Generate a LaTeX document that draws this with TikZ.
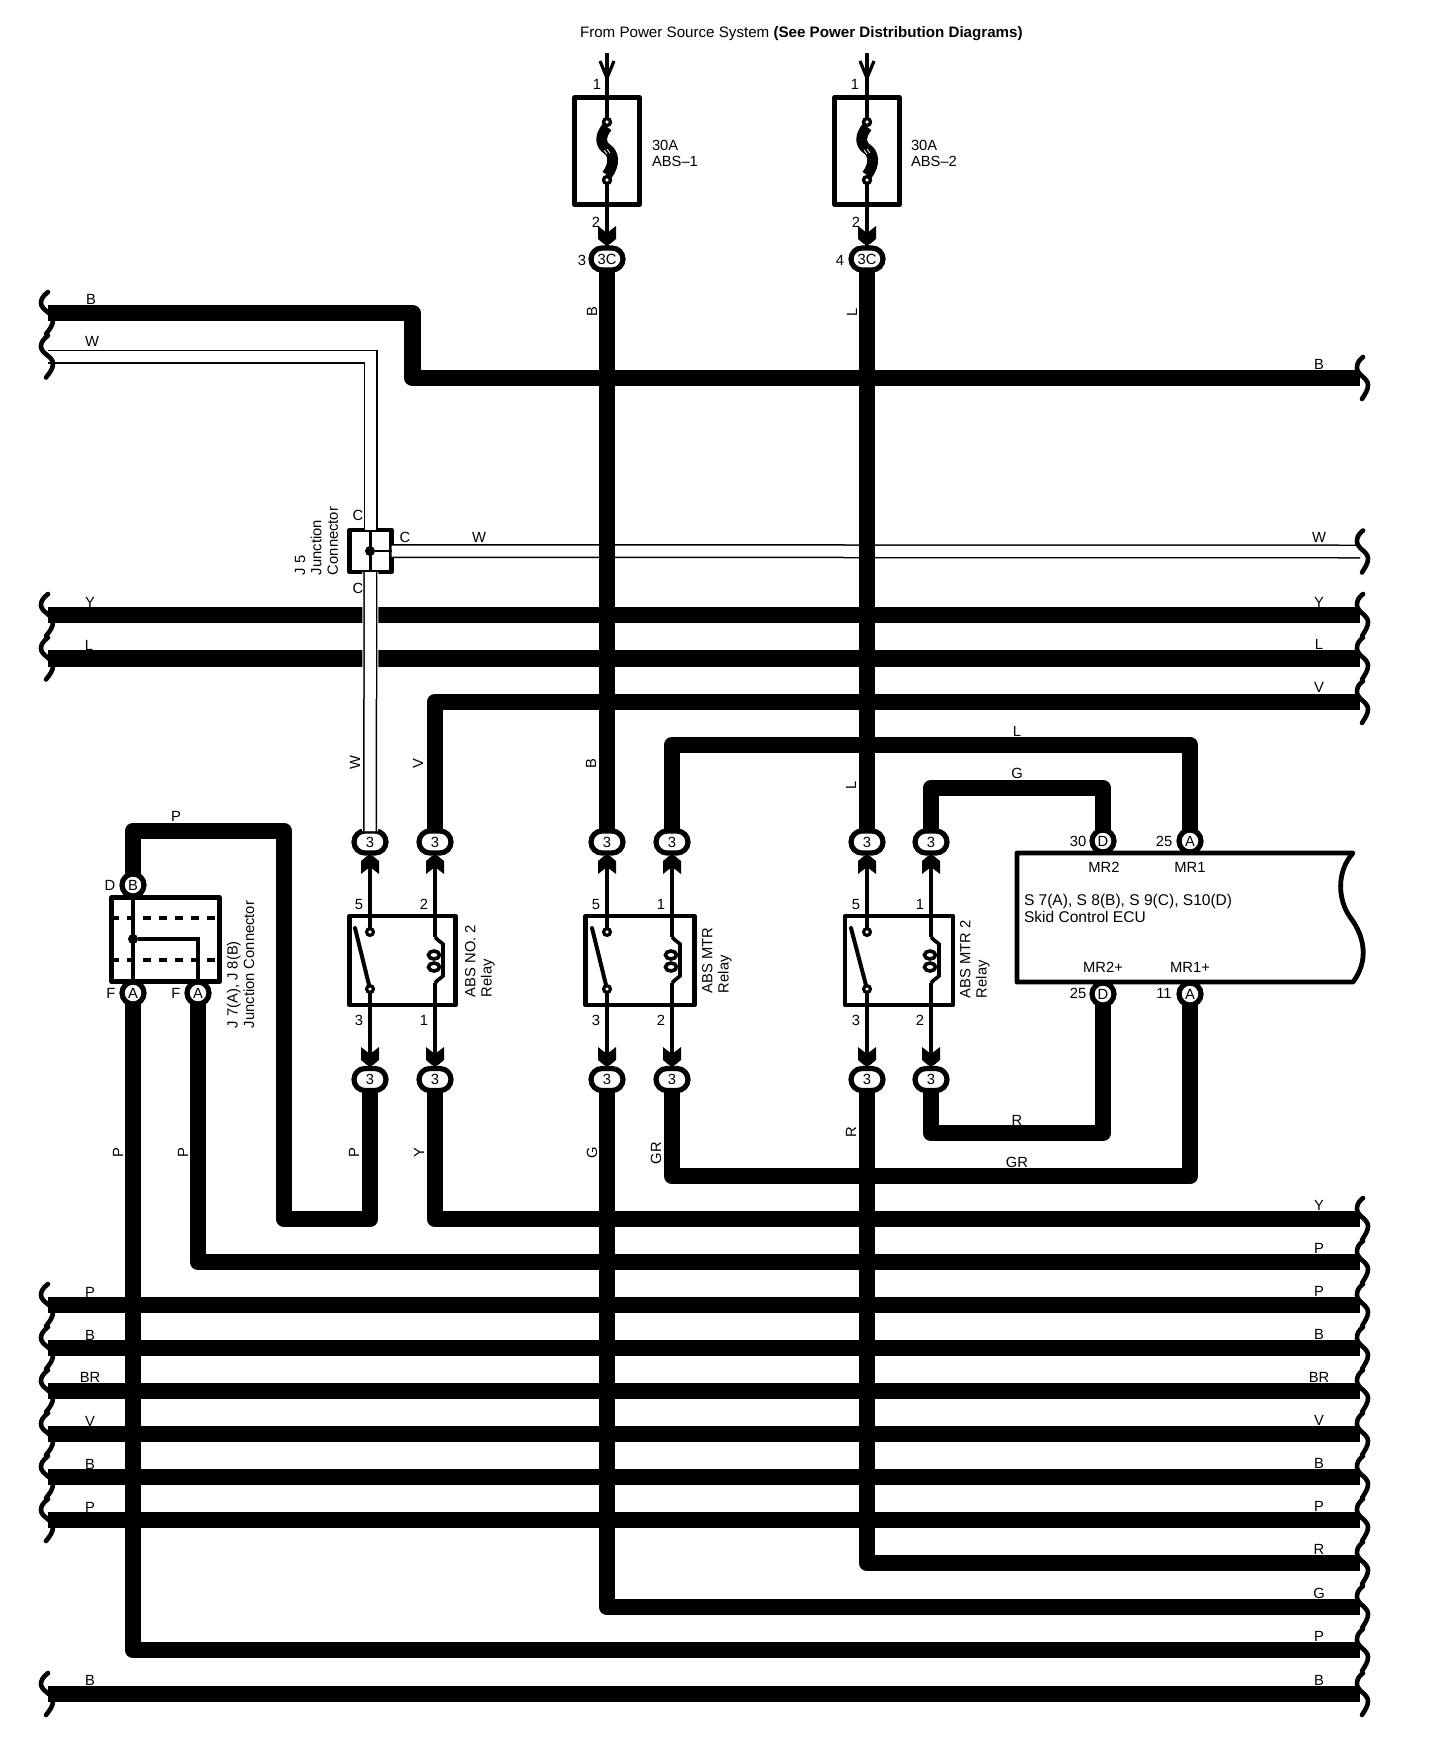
\documentclass[tikz,border=0pt]{standalone}
\usepackage{fontspec}
\setmainfont{Liberation Sans}
\begin{document}
\begin{tikzpicture}[x=0.5bp, y=-0.5bp]
\tikzset{ inner sep=0pt, outer sep=0pt, font=\fontsize{7.4}{8.2}\selectfont,
  bus/.style={line width=8.25bp, line join=round},
  wire/.style={line width=1.8bp},
  ww/.style={double, line width=0.75bp, double distance=5.5bp},
  box/.style={draw, line width=2.4bp, line join=round},
  oval/.style={rectangle, rounded corners=5.5bp, draw, fill=white, line width=2.6bp, minimum width=16bp, minimum height=11bp},
  conn/.style={circle, draw, fill=white, line width=2.6bp, minimum size=11bp},
  term/.style={circle, draw, fill=white, line width=1.6bp, minimum size=3.4bp},
  dot/.style={circle, fill=black, minimum size=5bp},
  brk/.style={line width=2.3bp, line cap=round},
  rl/.style={rotate=90},
  rt/.style={rotate=90, anchor=north west, align=left},
  brkr/.pic={\draw [brk] (3,-21) .. controls (-2,-17) and (-3,-14) .. (-3,-10) .. controls (-3,-3) and (8,0) .. (8,7) .. controls (8,12) and (5,16) .. (2,21);},
  brkl/.pic={\draw [brk] (0,-21) .. controls (-5,-17) and (-7,-14) .. (-7,-10) .. controls (-7,-3) and (5,0) .. (5,7) .. controls (5,12) and (2,16) .. (-2,21);},
  plugup/.pic={\fill (-9,19) -- (-9,6) -- (-3,1) -- (3,1) -- (9,6) -- (9,19) -- (0,12) -- cycle;},
  plugdn/.pic={\fill (-9,-19) -- (-9,-6) -- (-3,-1) -- (3,-1) -- (9,-6) -- (9,-19) -- (0,-12) -- cycle;},
  coil/.pic={
    \coordinate (-a) at (0,-23);
    \coordinate (-b) at (0,23);
    \draw [wire] (-a) -- (3,-20) -- (8,-16) -- (8,16) -- (3,20) -- (-b);
    \draw [line width=1.8bp] (-1,-5) circle [x radius=5.5, y radius=4];
    \draw [line width=1.8bp] (-1,7) circle [x radius=5.5, y radius=4];},
  fuselink/.pic={
    \draw [line width=5.4bp] (0,-24) .. controls (-8,-14) and (-6,-6) .. (0,-2) .. controls (6,2) and (9,12) .. (0,24);
    \draw [white, line width=0.4bp] (-3,-1) -- (0,3) (0,-2) -- (3,2);},
}

\useasboundingbox (0,0) rectangle (1440,1750);

%\draw [lightgray, dashed](0,0) grid (1440,1750);

% bus ends
\coordinate (bl) at (48,313);
\coordinate (bm) at (412.5,378);
\coordinate (br) at (1360,378);
\coordinate (wl) at (48,356.5);
\coordinate (wr) at (1360,551.5);
\coordinate (yl) at (48,615);
\coordinate (yr) at (1360,615);
\coordinate (ll) at (48,658.5);
\coordinate (lr) at (1360,658.5);
\coordinate (vr) at (1360,702);
\coordinate (y2r) at (1360,1219);
\coordinate (p2r) at (1360,1262);
\coordinate (p3l) at (48,1305);
\coordinate (p3r) at (1360,1305);
\coordinate (b3l) at (48,1348);
\coordinate (b3r) at (1360,1348);
\coordinate (brl) at (48,1391);
\coordinate (brr) at (1360,1391);
\coordinate (v3l) at (48,1434);
\coordinate (v3r) at (1360,1434);
\coordinate (b4l) at (48,1477);
\coordinate (b4r) at (1360,1477);
\coordinate (p4l) at (48,1520);
\coordinate (p4r) at (1360,1520);
\coordinate (r3r) at (1360,1563);
\coordinate (g3r) at (1360,1607);
\coordinate (p5r) at (1360,1650);
\coordinate (b5l) at (48,1694);
\coordinate (b5r) at (1360,1694);

% bends
\coordinate (pk) at (284,1219);
\coordinate (pt) at (133,831);
\coordinate (lk) at (1190,745);
\coordinate (gk) at (1103,788);
\coordinate (rk) at (1103,1133);
\coordinate (grk) at (1190,1176);

% fuses
\node [box, minimum width=32.5bp, minimum height=53.5bp] (F1) at (607,151) {};
\node [box, minimum width=32.5bp, minimum height=53.5bp] (F2) at (867,151) {};
\coordinate (in1) at (607,53);
\coordinate (in2) at (867,53);
\node [term] (f1a) at (607,122) {};
\node [term] (f1b) at (607,180) {};
\node [term] (f2a) at (867,122) {};
\node [term] (f2b) at (867,180) {};

% junction boxes and relays
\node [box, minimum width=21bp, minimum height=21bp] (J5) at (370.5,551) {};
\node [box, minimum width=54bp, minimum height=42bp] (J7) at (165.5,939.5) {};
\node [box, minimum width=53bp, minimum height=44.5bp] (R1) at (402.5,960.5) {};
\node [box, minimum width=54.5bp, minimum height=44.5bp] (R2) at (640,960.5) {};
\node [box, minimum width=54bp, minimum height=44.5bp] (R3) at (899,960.5) {};

% ecu
\draw [line width=2.4bp, line join=round] (1353,853) -- (1017,853) -- (1017,982) -- (1353,982)
  .. controls (1368,962) and (1366,938) .. (1350,917) .. controls (1338,900) and (1336,872) .. cycle;

% connectors
\node [oval] (c1) at (607,259) {3C};
\node [oval] (c2) at (867,259) {3C};
\node [oval] (o1) at (370,842) {3};
\node [oval] (o2) at (435,842) {3};
\node [oval] (o3) at (607,842) {3};
\node [oval] (o4) at (672,842) {3};
\node [oval] (o7) at (867,842) {3};
\node [oval] (o8) at (931,842) {3};
\node [oval] (o5) at (370,1079.5) {3};
\node [oval] (o6) at (435,1079.5) {3};
\node [oval] (o9) at (607,1079.5) {3};
\node [oval] (o10) at (672,1079.5) {3};
\node [oval] (o11) at (867,1079.5) {3};
\node [oval] (o12) at (931,1079.5) {3};
\node [conn] (jb) at (133,885) {B};
\node [conn] (ja1) at (133,993) {A};
\node [conn] (ja2) at (198,993) {A};
\node [conn] (d1) at (1103,841) {D};
\node [conn] (a1) at (1190,841) {A};
\node [conn] (d2) at (1103,994) {D};
\node [conn] (a2) at (1190,994) {A};

% W wires, the right one runs under the heavy ones
\draw [ww] (wl) -| (J5);
\draw [ww] (J5) -- (wr);

% heavy wires
\draw [bus] (bl) -| (bm) -- (br);
\draw [bus] (c1) -- (o3);
\draw [bus] (c2) -- (o7);
\draw [bus] (yl) -- (yr);
\draw [bus] (ll) -- (lr);
\draw [bus] (o2) |- (vr);
\draw [bus] (o4) |- (lk) -- (a1);
\draw [bus] (o8) |- (gk) -- (d1);
\draw [bus] (o12) |- (rk) -- (d2);
\draw [bus] (o10) |- (grk) -- (a2);
\draw [bus] (o5) |- (pk) |- (pt) -- (jb);
\draw [bus] (o6) |- (y2r);
\draw [bus] (ja2) |- (p2r);
\draw [bus] (ja1) |- (p5r);
\draw [bus] (p3l) -- (p3r);
\draw [bus] (b3l) -- (b3r);
\draw [bus] (brl) -- (brr);
\draw [bus] (v3l) -- (v3r);
\draw [bus] (b4l) -- (b4r);
\draw [bus] (p4l) -- (p4r);
\draw [bus] (o11) |- (r3r);
\draw [bus] (o9) |- (g3r);
\draw [bus] (b5l) -- (b5r);

\draw [ww, preaction={draw=white, line width=8bp}] (J5) -- (o1);

% bus breaks
\pic at (48,313) {brkl};
\pic at (48,356.5) {brkl};
\pic at (48,615) {brkl};
\pic at (48,658.5) {brkl};
\pic at (48,1305) {brkl};
\pic at (48,1348) {brkl};
\pic at (48,1391) {brkl};
\pic at (48,1434) {brkl};
\pic at (48,1477) {brkl};
\pic at (48,1520) {brkl};
\pic at (48,1694) {brkl};
\pic at (1360,378) {brkr};
\pic at (1360,551.5) {brkr};
\pic at (1360,615) {brkr};
\pic at (1360,658.5) {brkr};
\pic at (1360,702) {brkr};
\pic at (1360,1219) {brkr};
\pic at (1360,1262) {brkr};
\pic at (1360,1305) {brkr};
\pic at (1360,1348) {brkr};
\pic at (1360,1391) {brkr};
\pic at (1360,1434) {brkr};
\pic at (1360,1477) {brkr};
\pic at (1360,1520) {brkr};
\pic at (1360,1563) {brkr};
\pic at (1360,1607) {brkr};
\pic at (1360,1650) {brkr};
\pic at (1360,1694) {brkr};

% fuse wires
\draw [wire] (in1) -- (f1a);
\draw [wire] (f1b) -- (c1);
\draw [wire] (in2) -- (f2a);
\draw [wire] (f2b) -- (c2);
\pic at (607,151) {fuselink};
\pic at (867,151) {fuselink};
\node [term] (f1at) at (607,122) {};
\node [term] (f1bt) at (607,180) {};
\node [term] (f2at) at (867,122) {};
\node [term] (f2bt) at (867,180) {};
\draw [line width=1.6bp, line join=miter] (600,61) -- (607,78) -- (614,61);
\draw [line width=1.6bp, line join=miter] (860,61) -- (867,78) -- (874,61);
\pic at (607,245) {plugdn};
\pic at (867,245) {plugdn};

% junction insides
\node [dot] (jd5) at (370,551) {};
\draw [wire, line width=1.3bp] (J5.north) -- (J5.south);
\draw [wire, line width=1.3bp] (jd5) -- (J5.east);
\node [dot] (jd7) at (133,939) {};
\draw [wire] (jb) -- (ja1);
\coordinate (jk) at (198,939);
\draw [wire] (jd7) -- (jk) -- (ja2);
\coordinate (q1) at (111,918);
\coordinate (q2) at (220,918);
\coordinate (q3) at (111,960);
\coordinate (q4) at (220,960);
\draw [line width=2.4bp, dash pattern=on 4bp off 4bp] (q1) -- (q2);
\draw [line width=2.4bp, dash pattern=on 4bp off 4bp] (q3) -- (q4);

% relays
\node [term] (t1a) at (370,932) {};
\node [term] (t1b) at (370,989) {};
\node [term] (t2a) at (607,932) {};
\node [term] (t2b) at (607,989) {};
\node [term] (t3a) at (867,932) {};
\node [term] (t3b) at (867,989) {};
\coordinate (s1) at (355,928);
\coordinate (s2) at (592,928);
\coordinate (s3) at (851,928);
\draw [wire] (o1) -- (t1a);
\draw [wire] (t1b) -- (o5);
\draw [wire] (o3) -- (t2a);
\draw [wire] (t2b) -- (o9);
\draw [wire] (o7) -- (t3a);
\draw [wire] (t3b) -- (o11);
\draw [line width=2bp, line cap=round] (s1) -- (t1b);
\draw [line width=2bp, line cap=round] (s2) -- (t2b);
\draw [line width=2bp, line cap=round] (s3) -- (t3b);
\pic (k1) at (435,960) {coil};
\pic (k2) at (672,960) {coil};
\pic (k3) at (931,960) {coil};
\draw [wire] (o2) -- (k1-a);
\draw [wire] (k1-b) -- (o6);
\draw [wire] (o4) -- (k2-a);
\draw [wire] (k2-b) -- (o10);
\draw [wire] (o8) -- (k3-a);
\draw [wire] (k3-b) -- (o12);
\pic at (370,855) {plugup};
\pic at (435,855) {plugup};
\pic at (607,855) {plugup};
\pic at (672,855) {plugup};
\pic at (867,855) {plugup};
\pic at (931,855) {plugup};
\pic at (370,1066) {plugdn};
\pic at (435,1066) {plugdn};
\pic at (607,1066) {plugdn};
\pic at (672,1066) {plugdn};
\pic at (867,1066) {plugdn};
\pic at (931,1066) {plugdn};

% texts
\node [anchor=west] (title) at (580,34) {\fontsize{7.6}{8.2}\selectfont From Power Source System {\bfseries (See Power Distribution Diagrams)}};
\node (n1a) at (597,84) {1};
\node (n1b) at (596,222) {2};
\node (n2a) at (855,84) {1};
\node (n2b) at (856,222) {2};
\node (n1c) at (582,260) {3};
\node (n2c) at (840,260) {4};
\node [anchor=west, align=left] (f1t) at (652,153.5) {30A\\ABS--1};
\node [anchor=west, align=left] (f2t) at (911,153.5) {30A\\ABS--2};

\node (lb1) at (91,299) {B};
\node (lw1) at (92,341) {W};
\node (ly1) at (90,602) {Y};
\node (ll1) at (89,645) {L};
\node (lp3) at (90,1292) {P};
\node (lb3) at (90,1335) {B};
\node (lbr) at (90,1377) {BR};
\node (lv3) at (90,1421) {V};
\node (lb4) at (90,1464) {B};
\node (lp4) at (90,1507) {P};
\node (lb5) at (90,1680) {B};

\node (rb1) at (1319,364) {B};
\node (rw1) at (1319,537) {W};
\node (ry1) at (1319,602) {Y};
\node (rl1) at (1319,644) {L};
\node (rv1) at (1319,687) {V};
\node (ry2) at (1319,1205) {Y};
\node (rp2) at (1319,1248) {P};
\node (rp3) at (1319,1291) {P};
\node (rb3) at (1319,1334) {B};
\node (rbr) at (1319,1377) {BR};
\node (rv3) at (1319,1420) {V};
\node (rb4) at (1319,1463) {B};
\node (rp4) at (1319,1506) {P};
\node (rr3) at (1319,1549) {R};
\node (rg3) at (1319,1593) {G};
\node (rp5) at (1319,1636) {P};
\node (rb5) at (1319,1680) {B};

\node (wc) at (479,537) {W};
\node (cc1) at (358,515) {C};
\node (cc2) at (358,588) {C};
\node (cc3) at (405,537) {C};
\node [rt] (j5t) at (295,575) {J 5\\Junction\\Connector};
\node [rt] (j7t) at (227,1028) {J 7(A), J 8(B)\\Junction Connector};
\node [rt] (r1t) at (465,997) {ABS NO. 2\\Relay};
\node [rt] (r2t) at (702,993) {ABS MTR\\Relay};
\node [rt] (r3t) at (960,998) {ABS MTR 2\\Relay};

\node [rl] (vb1) at (592,312) {B};
\node [rl] (vl1) at (852,312) {L};
\node [rl] (vw) at (355,763) {W};
\node [rl] (vv) at (418,764) {V};
\node [rl] (vb2) at (591,764) {B};
\node [rl] (vl2) at (851,785) {L};
\node [rl] (vp1) at (118,1153) {P};
\node [rl] (vp2) at (183,1153) {P};
\node [rl] (vp3) at (354,1153) {P};
\node [rl] (vy) at (419,1153) {Y};
\node [rl] (vg) at (592,1153) {G};
\node [rl] (vgr) at (656,1153) {GR};
\node [rl] (vr1) at (851,1132) {R};
\node (tp) at (176,816) {P};
\node (tl) at (1017,731) {L};
\node (tg) at (1017,773) {G};
\node (tr) at (1017,1120) {R};
\node (tgr) at (1017,1162) {GR};

\node (nd) at (110,885) {D};
\node (nf1) at (111,993) {F};
\node (nf2) at (176,993) {F};

\node (r1a) at (359,904) {5};
\node (r1b) at (424,904) {2};
\node (r1c) at (359,1020) {3};
\node (r1d) at (424,1020) {1};
\node (r2a) at (596,904) {5};
\node (r2b) at (661,904) {1};
\node (r2c) at (596,1020) {3};
\node (r2d) at (661,1020) {2};
\node (r3a) at (856,904) {5};
\node (r3b) at (920,904) {1};
\node (r3c) at (856,1020) {3};
\node (r3d) at (920,1020) {2};

\node (e30) at (1078,841) {30};
\node (e25a) at (1164,841) {25};
\node (e25b) at (1078,993) {25};
\node (e11) at (1164,993) {11};
\node (mr2) at (1104,867) {MR2};
\node (mr1) at (1190,867) {MR1};
\node (mr2p) at (1103,967) {MR2+};
\node (mr1p) at (1190,967) {MR1+};
\node [anchor=west, align=left, font=\fontsize{7.8}{8.6}\selectfont] (ecu) at (1024,908) {S 7(A), S 8(B), S 9(C), S10(D)\\Skid Control ECU};

\end{tikzpicture}
\end{document}
